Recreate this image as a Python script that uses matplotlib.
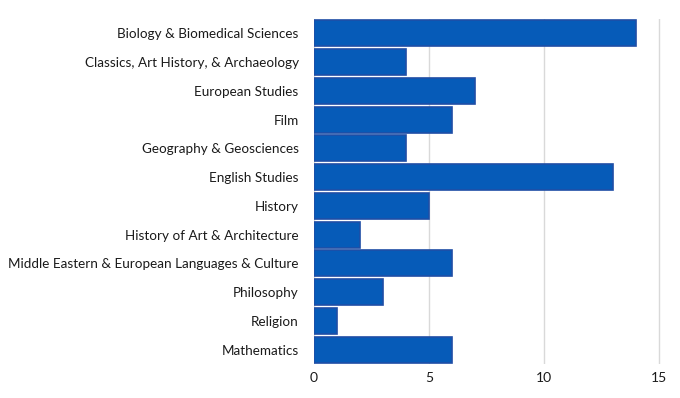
import matplotlib
matplotlib.use("Agg")
import matplotlib.pyplot as plt

subjects = [
    "Biology & Biomedical Sciences",
    "Classics, Art History, & Archaeology",
    "European Studies",
    "Film",
    "Geography & Geosciences",
    "English Studies",
    "History",
    "History of Art & Architecture",
    "Middle Eastern & European Languages & Culture",
    "Philosophy",
    "Religion",
    "Mathematics",
]
counts = [14, 4, 7, 6, 4, 13, 5, 2, 6, 3, 1, 6]
xticks = [0, 5, 10, 15]

plt.rcParams['font.family'] = ['Lato', 'DejaVu Sans']

fig = plt.figure(figsize=(6.8, 3.98), dpi=100)
ax = fig.add_axes([0.4618, 0.0854, 0.524, 0.8668])

pos = list(range(len(subjects)))
ax.barh(pos, counts, height=0.9, color='#065bb8', edgecolor='#1f4ea6', linewidth=1.2, zorder=3)
ax.set_ylim(len(subjects) - 0.5, -0.5)
ax.set_xlim(0, 15.5)
ax.set_yticks(pos)
ax.set_yticklabels(subjects, fontsize=9.7, color='#1a1a1a')
ax.set_xticks(xticks)
ax.set_xticklabels([str(t) for t in xticks], fontsize=10, color='#1a1a1a')
ax.tick_params(axis='y', length=0, pad=11)
ax.tick_params(axis='x', length=0, pad=6)
ax.grid(axis='x', color='#d9d9d9', linewidth=1, zorder=0)
for s in ax.spines.values():
    s.set_visible(False)

fig.savefig("out.png", dpi=100)
